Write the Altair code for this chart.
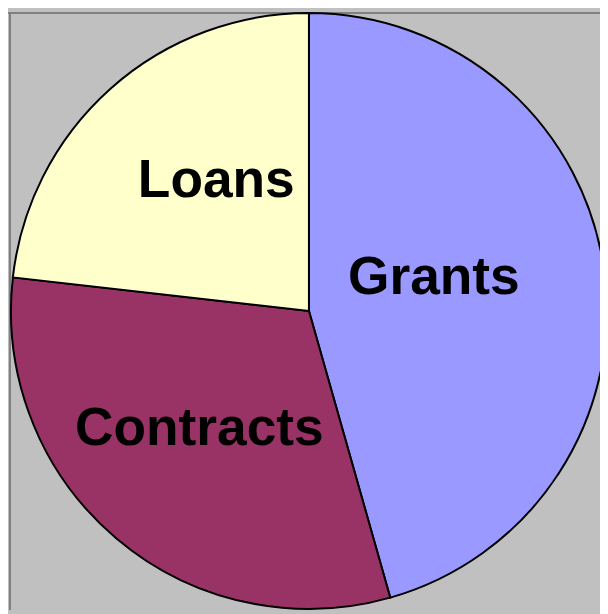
import altair as alt
import pandas as pd

categories = ["Grants", "Contracts", "Loans"]
shares = [45.6, 31.2, 23.2]
colors = ["#9999FF", "#993366", "#FFFFCC"]

df = pd.DataFrame({"category": categories, "share": shares, "idx": [0, 1, 2]})

W, H = 600, 606
CX, CY, R = 305, 303, 302

pie = alt.Chart(df).mark_arc(stroke="black", strokeWidth=2, clip=False, outerRadius=R).encode(
    theta=alt.Theta("share:Q", stack=True),
    order=alt.Order("idx:Q"),
    color=alt.Color("category:N", scale=alt.Scale(domain=categories, range=colors), legend=None),
    x=alt.value(CX), y=alt.value(CY),
)

offsets = {"Grants": (-22, 3), "Contracts": (-14, 21), "Loans": (6, -4)}
labels = []
for c in categories:
    dx, dy = offsets[c]
    labels.append(
        alt.Chart(df).transform_stack(
            stack="share", groupby=[], as_=["s0", "s1"], sort=[alt.SortField("idx")]
        ).transform_calculate(
            mid="(datum.s0 + datum.s1) / 2"
        ).transform_filter(alt.datum.category == c).mark_text(
            font="Liberation Sans", fontWeight="bold", fontSize=54,
            color="black", baseline="alphabetic", align="center", dx=dx, dy=dy,
        ).encode(
            theta=alt.Theta("mid:Q", scale=alt.Scale(domain=[0, 100])),
            radius=alt.value(150),
            text="category:N", x=alt.value(CX), y=alt.value(CY),
        )
    )

border_left = alt.Chart(df).mark_rule(color="#808080", strokeWidth=2).encode(
    x=alt.value(2), y=alt.value(0), y2=alt.value(H)
)
border_top = alt.Chart(df).mark_rule(color="#808080", strokeWidth=2).encode(
    y=alt.value(1), x=alt.value(0), x2=alt.value(W)
)

chart = alt.layer(border_left, border_top, pie, *labels).resolve_scale(theta="independent").properties(
    width=W, height=H, padding=0, background="#C0C0C0",
    autosize=alt.AutoSizeParams(type="none"),
).configure_view(stroke=None)

chart.save("out.html", embed_options={"renderer": "svg", "actions": False})
